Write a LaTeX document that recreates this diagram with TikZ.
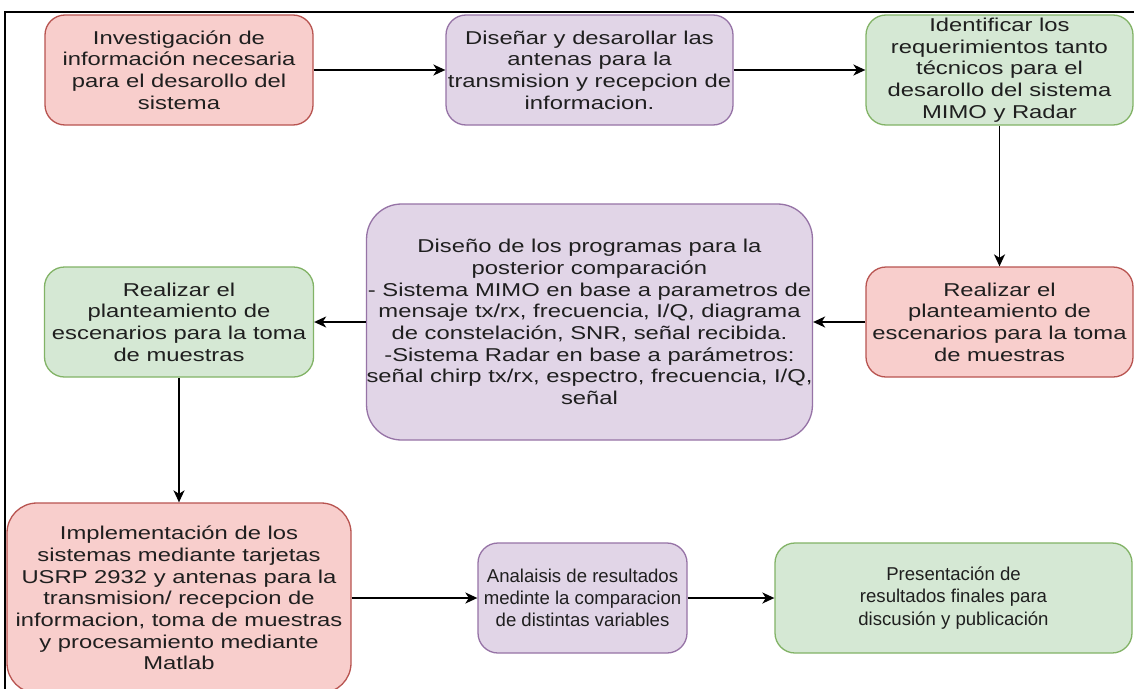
\documentclass[tikz,border=0pt]{standalone}
\usepackage{fontspec}
\setmainfont[FakeStretch=1.28]{Liberation Sans}
\newfontfamily\plainfont{Liberation Sans}
\usetikzlibrary{arrows.meta}
\definecolor{redfill}{HTML}{F8CECC}
\definecolor{redline}{HTML}{B85450}
\definecolor{purfill}{HTML}{E1D5E7}
\definecolor{purline}{HTML}{9673A6}
\definecolor{grnfill}{HTML}{D5E8D4}
\definecolor{grnline}{HTML}{82B366}
\begin{document}
\begin{tikzpicture}[x=1pt,y=-1pt,
  box/.style={rectangle, rounded corners=20pt, line width=1.3pt, align=center,
    inner sep=0pt, font=\fontsize{18.6}{21.7}\selectfont, text=black!88},
  plain/.style={font=\plainfont\fontsize{18.6}{22.3}\selectfont},
  redbox/.style={box, fill=redfill, draw=redline},
  purbox/.style={box, fill=purfill, draw=purline},
  grnbox/.style={box, fill=grnfill, draw=grnline},
  conn/.style={line width=1.8pt, -{Stealth[length=12pt,width=11pt,inset=3.5pt]}}]
\useasboundingbox (0,0) rectangle (1134,688);
\fill[white] (0,0) rectangle (1134,688);
\draw[line width=1.8pt] (1136,12) -- (5,12) -- (5,690);

\node[redbox, minimum width=268pt, minimum height=110pt] (n1) at (179,70)
  {Investigación de\\información necesaria\\para el desarollo del\\sistema};
\node[purbox, minimum width=287pt, minimum height=110pt] (n2) at (589.5,70)
  {Diseñar y desarollar las\\antenas para la\\transmision y recepcion de\\informacion.};
\node[grnbox, minimum width=267pt, minimum height=110pt] (n3) at (999.5,70)
  {Identificar los\\requerimientos tanto\\técnicos para el\\desarollo del sistema\\MIMO y Radar};
\node[redbox, minimum width=267pt, minimum height=110pt] (n6) at (999.5,322)
  {Realizar el\\planteamiento de\\escenarios para la toma\\de muestras};
\node[purbox, rounded corners=35pt, minimum width=443pt, minimum height=236pt] (n5) at (589.5,322)
  {Diseño de los programas para la\\posterior comparación\\- Sistema MIMO en base a parametros de\\mensaje tx/rx, frecuencia, I/Q, diagrama\\de constelación, SNR, señal recibida.\\-Sistema Radar en base a parámetros:\\señal chirp tx/rx, espectro, frecuencia, I/Q,\\señal};
\node[grnbox, minimum width=269pt, minimum height=110pt] (n4) at (179,322)
  {Realizar el\\planteamiento de\\escenarios para la toma\\de muestras};
\node[redbox, rounded corners=30pt, minimum width=344pt, minimum height=190pt] (n7) at (179,598)
  {Implementación de los\\sistemas mediante tarjetas\\USRP 2932 y antenas para la\\transmision/ recepcion de\\informacion, toma de muestras\\y procesamiento mediante\\Matlab};
\node[purbox, plain, minimum width=209pt, minimum height=110pt] (n8) at (582.5,598)
  {Analaisis de resultados\\medinte la comparacion\\de distintas variables};
\node[grnbox, plain, minimum width=357pt, minimum height=110pt] (n9) at (953.5,598)
  {Presentación de\\resultados finales para\\discusión y publicación};

\draw[conn] (n1) -- (n2);
\draw[conn] (n2) -- (n3);
\draw[conn] (n3) -- (n6);
\draw[conn] (n6) -- (n5);
\draw[conn] (n5) -- (n4);
\draw[conn] (n4) -- (n7);
\draw[conn] (n7) -- (n8);
\draw[conn] (n8) -- (n9);
\end{tikzpicture}
\end{document}
